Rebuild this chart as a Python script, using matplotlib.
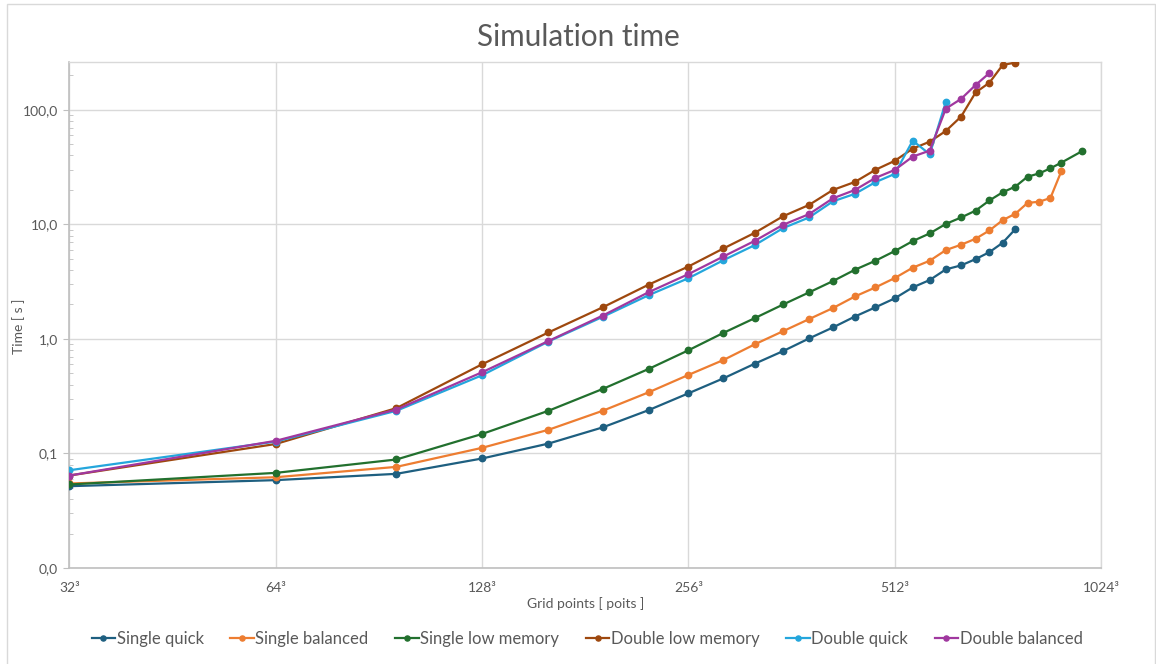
import numpy as np
import matplotlib.pyplot as plt
from matplotlib.ticker import FixedLocator, LogLocator, NullFormatter

plt.rcParams['font.family'] = ['Lato', 'DejaVu Sans']

# Tamaños de malla (N por lado, N^3 puntos)
N = [32, 64, 96, 128, 160, 192, 224, 256, 288, 320, 352, 384, 416, 448, 480,
     512, 544, 576, 608, 640, 672, 704, 736, 768, 800, 832, 864, 896, 960]

# Tiempos de simulación [s]
single_quick = [0.0518, 0.0585, 0.0664, 0.0904, 0.122, 0.169, 0.239, 0.335,
                0.453, 0.608, 0.784, 1.01, 1.26, 1.57, 1.89, 2.26, 2.82, 3.27,
                4.05, 4.39, 4.98, 5.73, 6.92, 9.1]
single_balanced = [0.0547, 0.062, 0.0764, 0.112, 0.161, 0.236, 0.342, 0.485,
                   0.655, 0.898, 1.17, 1.49, 1.86, 2.35, 2.82, 3.4, 4.19, 4.82,
                   5.97, 6.65, 7.5, 8.86, 10.9, 12.4, 15.4, 15.8, 17.0, 29.0]
single_low_mem = [0.0536, 0.0677, 0.0886, 0.148, 0.236, 0.366, 0.547, 0.796,
                  1.13, 1.52, 2.0, 2.55, 3.2, 4.02, 4.82, 5.85, 7.15, 8.35,
                  10.1, 11.5, 13.2, 16.2, 19.1, 21.4, 26.1, 27.9, 30.9, 34.6, 43.5]
double_low_mem = [0.0642, 0.121, 0.249, 0.601, 1.14, 1.89, 2.98, 4.29, 6.17,
                  8.45, 11.8, 14.8, 20.0, 23.5, 30.0, 35.9, 45.9, 52.8, 65.5,
                  87.4, 142, 173, 247, 259]
double_quick = [0.0714, 0.127, 0.236, 0.482, 0.95, 1.56, 2.41, 3.39, 4.87,
                6.6, 9.29, 11.5, 15.9, 18.5, 23.4, 27.6, 53.9, 41.0, 117.5]
double_balanced = [0.0642, 0.129, 0.242, 0.512, 0.96, 1.60, 2.56, 3.68, 5.25,
                   7.19, 9.93, 12.3, 16.9, 20.0, 25.5, 29.9, 39.1, 44.1, 102.6,
                   124.8, 165, 210]

series = [
    ('Single quick', single_quick, '#1e5f80'),
    ('Single balanced', single_balanced, '#ed7d31'),
    ('Single low memory', single_low_mem, '#22702e'),
    ('Double low memory', double_low_mem, '#9e480e'),
    ('Double quick', double_quick, '#24a6dc'),
    ('Double balanced', double_balanced, '#a0389f'),
]

x_ticks = [32, 64, 128, 256, 512, 1024]
y_ticks = [0.01, 0.1, 1, 10, 100]
y_labels = ['0,0', '0,1', '1,0', '10,0', '100,0']

fig = plt.figure(figsize=(11.56, 6.64), dpi=100)
ax = fig.add_axes([0.0601, 0.1446, 0.8923, 0.762])

for name, t, c in series:
    ax.plot(N[:len(t)], t, color=c, lw=1.6, marker='o', ms=4.6, label=name,
            zorder=3)

ax.set_xscale('log', base=2)
ax.set_yscale('log')
ax.set_xlim(32, 1024)
ax.set_ylim(0.01, 262)

ax.xaxis.set_major_locator(FixedLocator(x_ticks))
ax.set_xticklabels([f'{n}³' for n in x_ticks])
ax.xaxis.set_minor_locator(FixedLocator([]))
ax.yaxis.set_major_locator(FixedLocator(y_ticks))
ax.set_yticklabels(y_labels)
ax.yaxis.set_minor_locator(LogLocator(base=10, subs=np.arange(2, 10)))
ax.yaxis.set_minor_formatter(NullFormatter())

grey = '#595959'
ax.grid(True, which='major', color='#d9d9d9', lw=1.0, zorder=0)
ax.tick_params(axis='x', length=0, pad=10, labelsize=10, labelcolor=grey)
ax.tick_params(axis='y', which='major', direction='out', length=4.5,
               color='#bfbfbf', labelsize=10, labelcolor=grey, pad=4)
ax.tick_params(axis='y', which='minor', direction='in', length=3,
               color='#bfbfbf')

for s in ['left', 'bottom']:
    ax.spines[s].set_color('#bfbfbf')
    ax.spines[s].set_linewidth(1.2)
for s in ['top', 'right']:
    ax.spines[s].set_color('#d9d9d9')
    ax.spines[s].set_linewidth(1.0)

ax.set_xlabel('Grid points [ poits ]', fontsize=10, color=grey, labelpad=2)
fig.text(19 / 1156, 1 - 326 / 664, 'Time [ s ]', rotation=90, ha='center',
         va='center', fontsize=10, color=grey)
fig.text(0.5, 0.945, 'Simulation time', ha='center', va='center',
         fontsize=21.4, color=grey)

fig.legend(loc='center', bbox_to_anchor=(0.508, 0.038), ncol=6, frameon=False,
           fontsize=12, labelcolor=grey, handlelength=1.4, handletextpad=0.1,
           columnspacing=1.6, markerscale=0.8)

# Borde del área del gráfico
fig.patches.append(plt.Rectangle((0.006, -0.01), 0.9935, 1.004,
                                 transform=fig.transFigure, fill=False,
                                 edgecolor='#d9d9d9', lw=1.0))

fig.savefig('out.png', dpi=100)
